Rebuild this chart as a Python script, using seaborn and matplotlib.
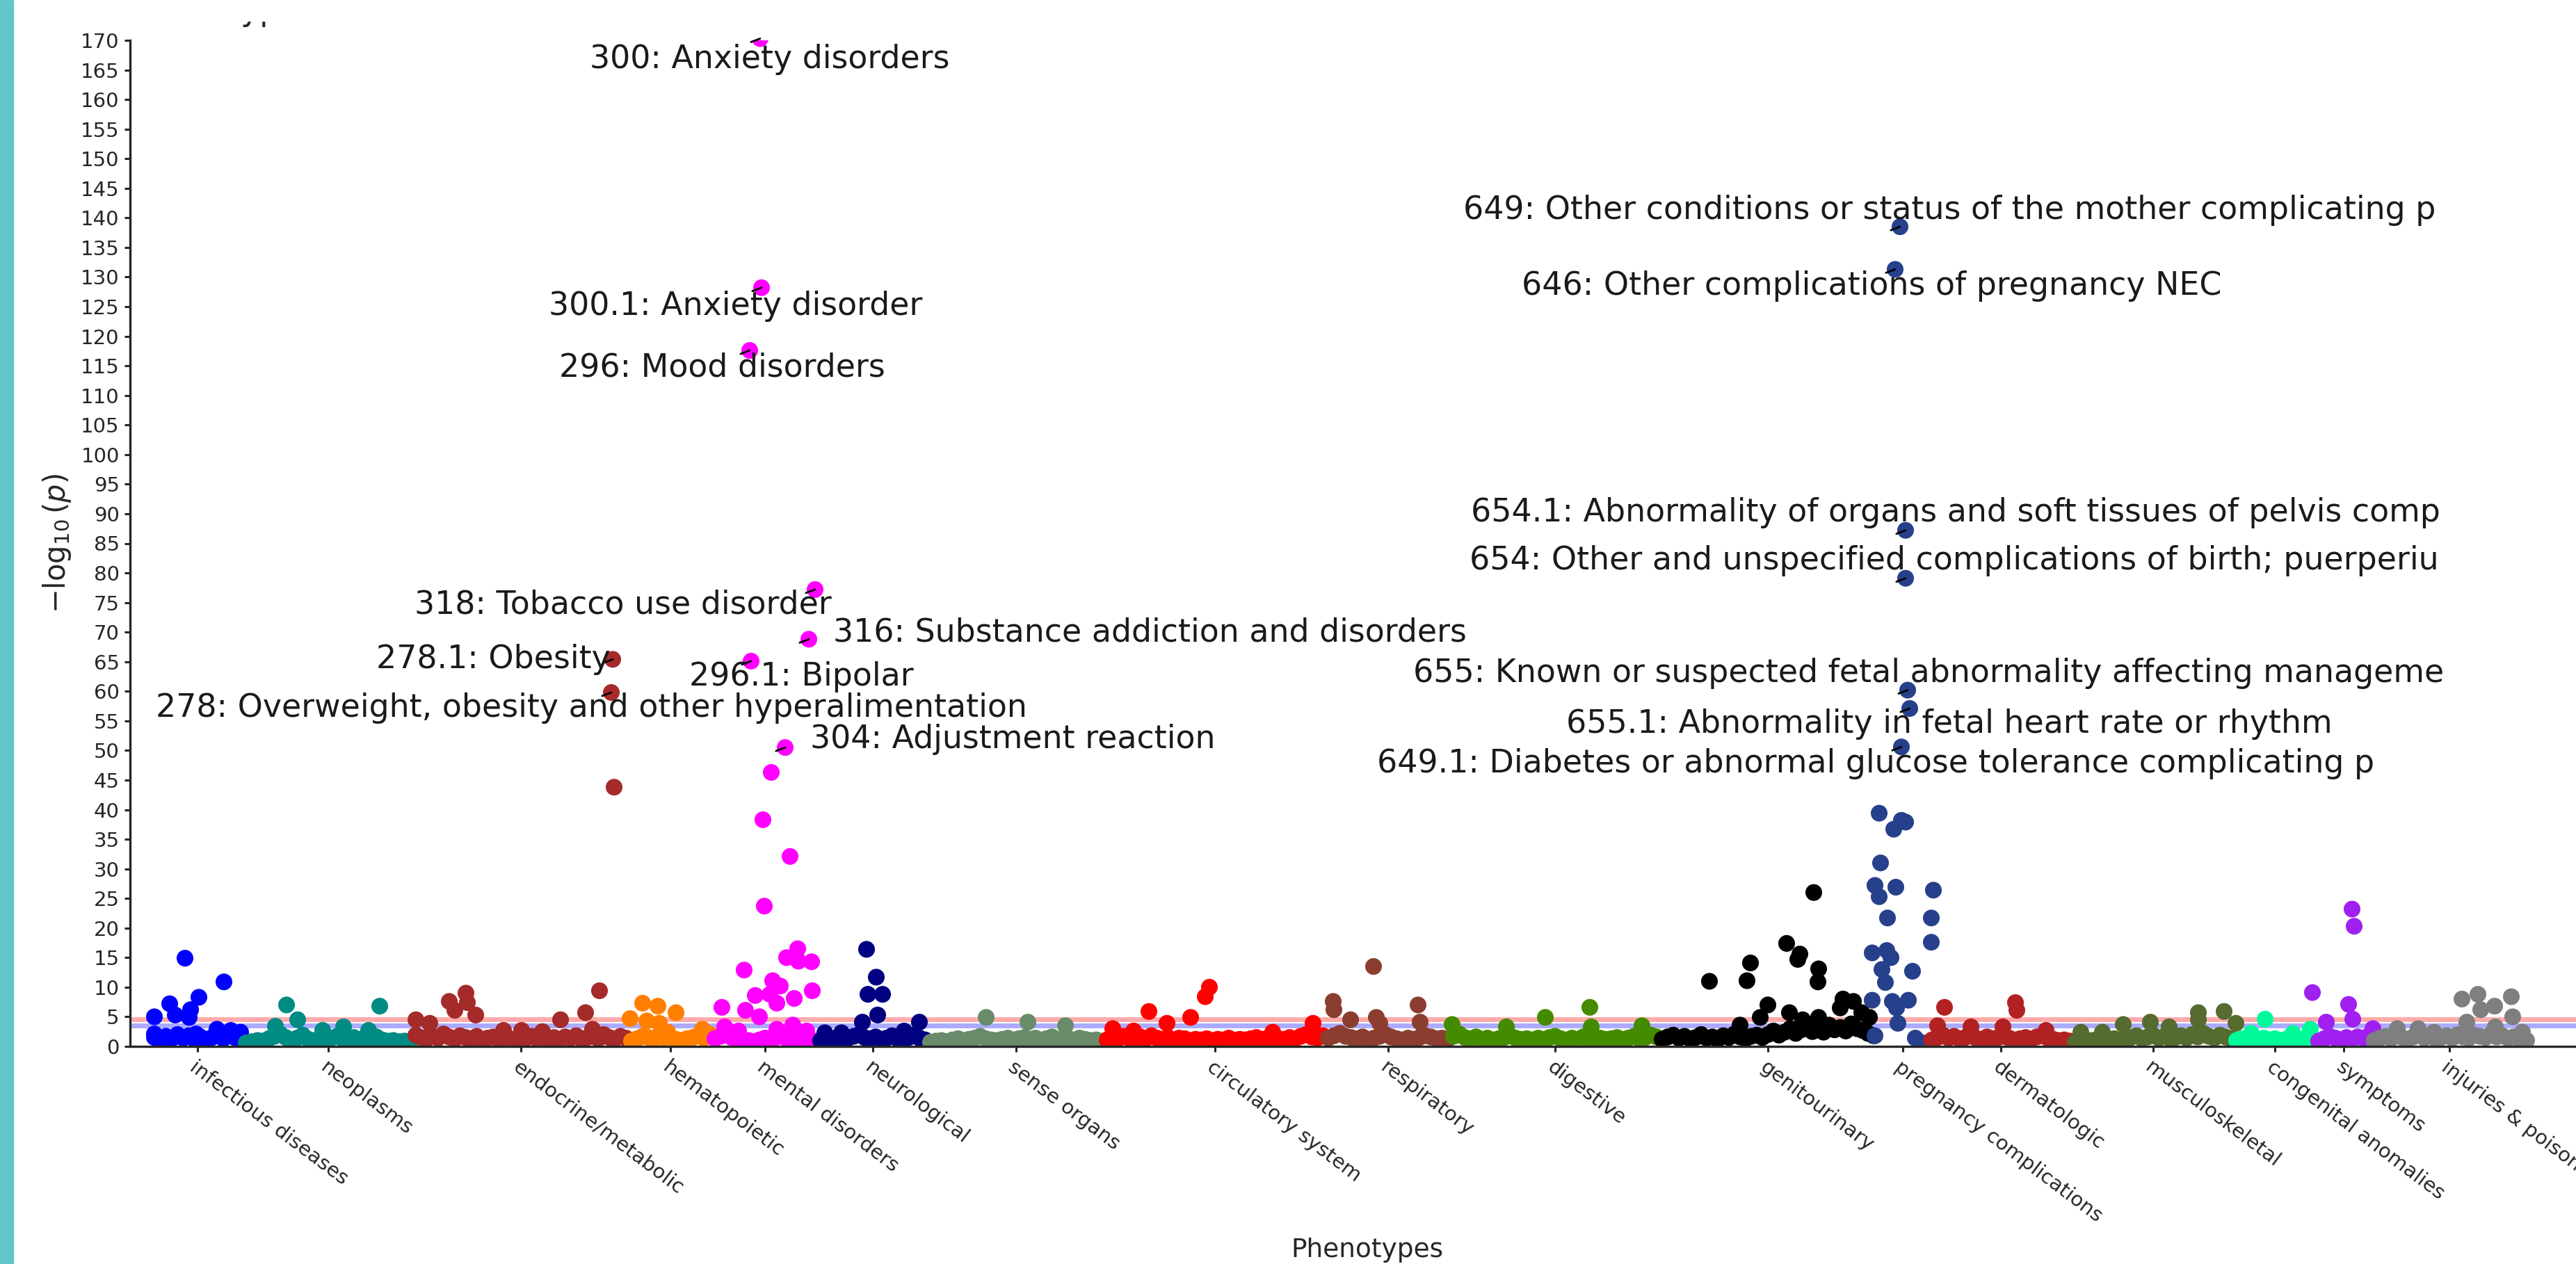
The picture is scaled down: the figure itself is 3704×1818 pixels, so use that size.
import numpy as np
import pandas as pd
import seaborn as sns
import matplotlib.pyplot as plt
from matplotlib.patches import Rectangle

# PheWAS manhattan plot: -log10(p) per phenotype, grouped by phecode category
categories = ['infectious diseases', 'neoplasms', 'endocrine/metabolic', 'hematopoietic',
              'mental disorders', 'neurological', 'sense organs', 'circulatory system',
              'respiratory', 'digestive', 'genitourinary', 'pregnancy complications',
              'dermatologic', 'musculoskeletal', 'congenital anomalies', 'symptoms',
              'injuries & poisonings']
colors = ['#0000FF', '#008B84', '#A52A2A', '#FF7F00', '#FF00FF', '#000080', '#698B69',
          '#FF0000', '#8B3E2F', '#458B00', '#000000', '#27408B', '#B22222', '#556B2F',
          '#00FA9A', '#A020F0', '#7F7F7F']
# number of phenotypes (codes) in each category, in plotting order
n_codes = [66, 122, 155, 60, 76, 79, 127, 159, 90, 150, 156, 38, 103, 116, 59, 40, 112]

# the dense non-significant mass, evenly spread across each category
baseline = [
    [1.5, 1.1, 1.7, 1.3, 2.0, 1.4, 1.8, 1.2, 1.6, 1.1, 1.5, 1.9, 1.3, 1.8, 1.5, 1.2],
    [0.6, 0.8, 1.0, 0.9, 1.3, 1.7, 2.1, 1.5, 1.1, 1.4, 1.9, 1.2, 1.0, 0.9, 1.1, 1.4, 1.7, 1.3,
     1.1, 1.5, 1.2, 1.0, 1.3, 1.6, 1.1, 0.9, 1.0, 0.8, 0.9, 0.8],
    [1.9, 1.5, 1.3, 1.7, 1.4, 2.1, 1.6, 1.2, 1.8, 1.5, 1.3, 1.7, 1.1, 1.4, 1.6, 1.2, 1.8, 1.3,
     1.1, 1.5, 1.4, 1.7, 1.2, 1.9, 1.3, 1.5, 1.1, 1.6, 1.4, 1.8, 1.2, 1.5, 1.7, 1.3, 2.0, 1.5,
     1.2, 1.7, 1.4],
    [0.9, 1.3, 1.7, 1.5, 1.1, 1.9, 1.4, 1.6, 1.2, 1.0, 1.3, 1.5, 1.8, 1.4, 2.1],
    [1.3, 1.7, 2.0, 1.5, 1.1, 0.9, 1.0, 0.8, 1.1, 1.4, 0.9, 1.5, 1.8, 1.2, 1.6, 1.1, 1.5, 1.2, 0.9],
    [1.0, 1.3, 1.1, 1.5, 1.2, 1.4, 1.7, 2.0, 1.5, 1.3, 1.6, 1.2, 1.4, 1.8, 1.3, 1.1, 1.5, 1.9,
     1.4, 1.1],
    [0.7, 0.9, 1.0, 0.8, 1.1, 1.3, 1.0, 1.2, 1.4, 1.7, 1.3, 1.1, 1.0, 1.2, 1.4, 1.1, 1.3, 1.5,
     1.2, 1.4, 1.1, 1.3, 1.6, 1.2, 1.0, 1.3, 1.1, 1.4, 1.2, 1.0, 1.1, 0.9],
    [1.1, 1.5, 1.3, 1.7, 1.4, 1.2, 1.6, 1.3, 1.8, 1.4, 1.2, 1.5, 1.1, 1.4, 1.3, 1.0, 1.2, 1.1,
     1.3, 1.0, 1.2, 1.1, 1.4, 1.0, 1.2, 1.1, 1.3, 1.5, 1.2, 1.4, 1.1, 1.3, 1.2, 1.5, 1.3, 1.7,
     2.0, 1.6, 1.4, 1.8],
    [1.4, 1.8, 2.2, 1.7, 1.5, 1.3, 1.6, 1.2, 1.4, 1.7, 2.0, 1.6, 1.3, 1.1, 1.4, 1.2, 1.5, 1.8,
     1.6, 1.3, 1.4, 1.2],
    [1.7, 2.1, 1.5, 1.3, 1.6, 1.2, 1.4, 1.1, 1.3, 1.5, 1.8, 1.4, 1.2, 1.3, 1.1, 1.4, 1.2, 1.5,
     1.7, 1.3, 1.1, 1.4, 1.2, 1.6, 1.3, 1.1, 1.4, 1.2, 1.3, 1.5, 1.2, 1.4, 1.7, 1.3, 1.5, 1.9, 1.6],
    [1.2, 1.6, 1.9, 1.4, 1.7, 1.3, 1.5, 2.0, 1.4, 1.6, 1.2, 1.8, 1.5, 2.1, 1.6, 1.3, 1.7, 1.9,
     1.5, 2.0, 2.6, 1.9, 2.4, 3.0, 2.2, 2.8, 3.4, 2.5, 3.1, 2.4, 3.6, 2.8, 3.2, 2.6, 3.8, 3.0,
     2.7, 2.2, 1.8],
    [],
    [1.1, 1.5, 1.9, 1.4, 1.7, 1.3, 1.5, 1.8, 1.4, 1.2, 1.6, 1.3, 1.5, 1.7, 1.4, 1.1, 1.3, 1.5,
     1.2, 1.6, 1.8, 1.4, 1.2, 1.0, 1.1, 0.9],
    [0.7, 0.9, 0.8, 1.0, 1.2, 0.9, 1.1, 1.3, 1.0, 1.2, 1.5, 1.8, 1.3, 1.6, 1.9, 1.4, 1.7, 1.3,
     1.5, 1.8, 1.4, 2.0, 1.6, 2.2, 1.7, 1.4, 1.9, 1.6, 1.3],
    [1.0, 1.3, 1.1, 1.5, 1.2, 1.4, 1.1, 1.3, 1.0, 1.2, 1.1, 1.4, 1.2, 1.5, 1.3],
    [0.9, 1.3, 1.7, 1.4, 1.1, 1.5, 1.2, 1.6, 1.4, 1.8],
    [1.0, 1.4, 1.7, 1.3, 1.8, 1.5, 1.2, 1.6, 1.9, 1.4, 1.7, 1.3, 1.5, 1.8, 1.4, 2.0, 1.6, 1.4,
     1.9, 1.7, 1.5, 2.1, 1.6, 1.8, 1.4, 1.6, 1.2, 1.0],
]

# stand-out phenotypes: (phenotype index along the x axis, -log10 p)
peaks = [
    [(2, 5.0), (2, 2.1), (13, 7.2), (17, 5.3), (24, 14.9), (27, 4.9), (28, 6.2), (32, 2.1),
     (34, 8.3), (47, 2.9), (52, 10.9), (57, 2.7), (64, 2.4)],
    [(89, 3.4), (97, 7.0), (105, 4.5), (123, 2.7), (138, 3.3), (156, 2.7), (164, 6.8)],
    [(190, 4.5), (200, 3.9), (214, 7.6), (218, 6.1), (226, 9.0), (227, 7.4), (233, 5.3),
     (253, 2.7), (266, 2.7), (281, 2.5), (294, 4.5), (312, 5.7), (317, 2.9), (322, 9.4),
     (330.5, 59.8), (331.5, 65.4), (332.5, 43.8)],
    [(344, 4.7), (353, 7.3), (356, 4.3), (364, 6.8), (365, 3.9), (371, 2.4), (377, 5.7), (396, 2.9)],
    [(410, 6.6), (412, 3.3), (422, 2.6), (426, 12.9), (427, 6.1), (430, 117.6), (431, 65.1),
     (434, 8.6), (437, 5.0), (437.5, 170.3), (438.5, 128.2), (439.5, 38.3), (440.5, 23.7),
     (444.5, 8.8), (445.5, 46.3), (446.5, 11.1), (449.5, 7.3), (449.5, 2.9), (452, 10.2),
     (455.5, 50.5), (456.5, 15.0), (459, 32.1), (461, 3.6), (462, 8.1), (464.5, 16.5),
     (465, 14.4), (471, 2.6), (472.5, 68.8), (474.5, 14.3), (475, 9.4), (477, 77.2)],
    [(484, 2.3), (496, 2.3), (511, 4.1), (514, 16.4), (515, 8.8), (521, 11.7), (522, 5.3),
     (525.5, 8.8), (541, 2.6), (552, 4.1)],
    [(600, 4.9), (630, 4.1), (657, 3.5)],
    [(691, 3.0), (706, 2.6), (717, 5.9), (730, 3.9), (747, 4.9), (757.5, 8.4), (760.5, 10.0),
     (806, 2.4), (835, 3.9)],
    [(849.5, 7.6), (850, 6.2), (862, 4.5), (878.5, 13.5), (880.5, 4.9), (883, 3.9),
     (910.5, 7.0), (912, 4.1)],
    [(935, 3.7), (974, 3.3), (1002, 4.9), (1034, 6.6), (1035, 3.3), (1071.5, 3.5)],
    [(1120, 11.0), (1142, 3.6), (1147, 11.1), (1149.5, 14.1), (1156.5, 4.9), (1162, 7.0),
     (1175.5, 17.4), (1177.5, 5.7), (1183.5, 14.7), (1185, 15.6), (1187, 4.5), (1195, 26.0),
     (1198, 10.9), (1198.5, 13.1), (1198.5, 4.9), (1214, 6.5), (1216, 8.0), (1223.5, 7.6),
     (1229.5, 5.7), (1235, 4.9)],
    [(1237, 15.8), (1237, 7.8), (1239, 27.2), (1239, 1.8), (1242, 39.4), (1242, 25.3),
     (1243, 31.0), (1244, 13.0), (1246.5, 10.8), (1247.5, 16.2), (1248, 21.7), (1250.5, 15.0),
     (1251.5, 7.6), (1252.5, 36.7), (1253.5, 131.3), (1254, 26.9), (1254.5, 6.5),
     (1255.5, 3.9), (1257, 138.5), (1258, 38.2), (1258, 50.6), (1261, 87.2), (1261, 79.1),
     (1261, 37.9), (1262.5, 60.2), (1263, 7.8), (1264, 57.1), (1266, 12.7), (1268, 1.4),
     (1273, 0.6), (1279.5, 21.7), (1279.5, 17.6), (1281, 26.4)],
    [(1284, 3.5), (1289, 6.6), (1308, 3.3), (1331, 3.3), (1340, 7.4), (1341, 6.1), (1362, 2.7)],
    [(1387, 2.4), (1402.5, 2.4), (1417.5, 3.7), (1437, 4.1), (1450.5, 3.3), (1471.5, 5.7),
     (1471.5, 4.5), (1490, 5.9), (1498.5, 3.9)],
    [(1509.5, 2.2), (1519.5, 4.6), (1539.5, 2.2), (1552, 2.9)],
    [(1553.5, 9.1), (1563.5, 4.1), (1579.5, 7.1), (1582, 23.2), (1582.5, 4.6), (1583.5, 20.3),
     (1597, 3.0)],
    [(1614.5, 3.0), (1629.5, 3.0), (1641, 2.4), (1661, 8.0), (1664.5, 4.1), (1672.5, 8.8),
     (1674.5, 6.2), (1684.5, 6.8), (1685, 3.3), (1696.5, 8.4), (1697.5, 5.0), (1704.5, 2.4),
     (1707.5, 1.0)],
]

# labelled phenotypes: text, and the point it belongs to
label_text = ['300: Anxiety disorders', '300.1: Anxiety disorder', '296: Mood disorders',
              '318: Tobacco use disorder', '278.1: Obesity',
              '316: Substance addiction and disorders', '296.1: Bipolar',
              '278: Overweight, obesity and other hyperalimentation',
              '304: Adjustment reaction',
              '649: Other conditions or status of the mother complicating p',
              '646: Other complications of pregnancy NEC',
              '654.1: Abnormality of organs and soft tissues of pelvis comp',
              '654: Other and unspecified complications of birth; puerperiu',
              '655: Known or suspected fetal abnormality affecting manageme',
              '655.1: Abnormality in fetal heart rate or rhythm',
              '649.1: Diabetes or abnormal glucose tolerance complicating p']
label_point = [(437.5, 170.3), (438.5, 128.2), (430, 117.6), (477, 77.2), (331.5, 65.4),
               (472.5, 68.8), (431, 65.1), (330.5, 59.8), (455.5, 50.5), (1257, 138.5),
               (1253.5, 131.3), (1261, 87.2), (1261, 79.1), (1262.5, 60.2), (1264, 57.1),
               (1258, 50.6)]
# where the label text sits (centre, data coords)
label_at = [(444.5, 166.8), (419.8, 125.1), (410.3, 114.7), (338.8, 74.6), (245.5, 65.4),
            (717.5, 69.9), (467, 62.4), (316.3, 57.2), (619, 51.9), (1292.8, 141.3),
            (1236.8, 128.5), (1297, 90.2), (1295.8, 82.1), (1277.5, 63.0), (1292.3, 54.4),
            (1239.3, 47.7)]

bonferroni = 4.57
fdr = 3.55

# build long table
rows = []
start = 0
for cat, n, base, pk in zip(categories, n_codes, baseline, peaks):
    for i, v in enumerate(base):
        rows.append((start + (i + 0.5) * n / len(base), v, cat))
    for idx, v in pk:
        rows.append((idx, v, cat))
    start += n
df = pd.DataFrame(rows, columns=['phenotype', 'logp', 'category'])
tick_pos = np.cumsum(n_codes) - np.array(n_codes) / 2

sns.set_style('ticks')
plt.rcParams['font.family'] = ['DejaVu Sans']

W, H = 3705, 1818
fig = plt.figure(figsize=(W / 100, H / 100), dpi=100)
ax = fig.add_axes([187 / W, 313 / H, 3558 / W, 1447 / H])

ax.axhline(bonferroni, color='red', alpha=0.33, lw=5, zorder=1)
ax.axhline(fdr, color='blue', alpha=0.33, lw=5, zorder=1)
sns.scatterplot(data=df, x='phenotype', y='logp', hue='category',
                palette=dict(zip(categories, colors)), s=300, linewidth=0,
                legend=False, ax=ax, zorder=2)

for txt, pt, at in zip(label_text, label_point, label_at):
    ax.text(at[0], at[1], txt, ha='center', va='center', fontsize=33, color='.1', zorder=4)
    # short leader tick ending on the point
    ax.annotate('', xy=pt, xytext=(-9.5, -3.6), textcoords='offset points',
                annotation_clip=False,
                arrowprops=dict(arrowstyle='-', color='k', lw=2, shrinkA=0, shrinkB=0))

ax.set_xlim(-15.5, 1763.5)
ax.set_ylim(0, 170)
ax.set_yticks(np.arange(0, 171, 5))
ax.set_xticks(tick_pos)
ax.set_xticklabels(categories, rotation=-37, ha='left', va='top', rotation_mode='anchor')
ax.tick_params(axis='both', labelsize=21, length=6, width=2.2, pad=5)
for sp in ['left', 'bottom']:
    ax.spines[sp].set_linewidth(2.4)
sns.despine(ax=ax)

ax.set_ylabel(r'$-\log_{10}(p)$', fontsize=30, labelpad=8)
ax.set_xlabel('Phenotypes', fontsize=27)
ax.xaxis.set_label_coords(0.5, -0.19)

# title, cropped at the top of the image
fig.text(187 / W, 1 - 29 / H, 'Phenotype', fontsize=33, ha='left', va='baseline')
fig.add_artist(Rectangle((21 / W, 1 - 30 / H), 1, 30 / H, transform=fig.transFigure,
                         color='white', zorder=10))
# teal strip at the left edge
fig.add_artist(Rectangle((0, 0), 19 / W, 1, transform=fig.transFigure,
                         color='#62C6CA', zorder=11))

fig.savefig('out.png', dpi=100)
